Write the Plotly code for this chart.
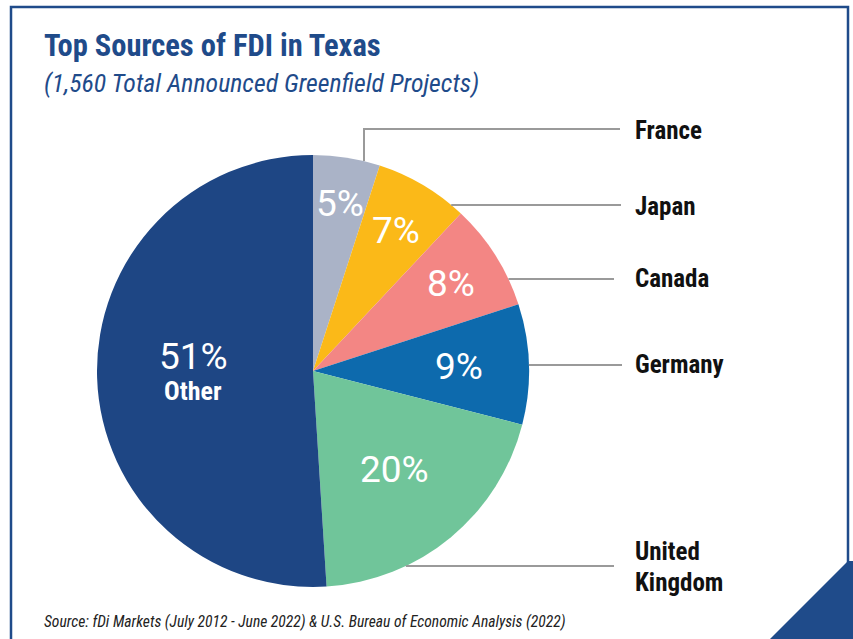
import math
import plotly.graph_objects as go

# ---- data ----
countries = ["France", "Japan", "Canada", "Germany", "United Kingdom", "Other"]
shares = [5, 7, 8, 9, 20, 51]
colors = ["#aab3c7", "#fbb918", "#f38684", "#0d6aad", "#70c59a", "#1e4684"]
side_labels = [["France"], ["Japan"], ["Canada"], ["Germany"], ["United", "Kingdom"]]
inner_sublabels = ["", "", "", "", "", "Other"]

W, H = 853, 639
NAVY = "#1f4b8a"
COND = "Liberation Sans Narrow, Roboto Condensed, Arial Narrow, Roboto, sans-serif"

def px(x):
    return x / W

def py(y):
    return 1 - y / H

# pie geometry (pixels)
cx, cy, R = 313, 371, 216
# radial position of each percentage label (pixels from centre)
label_r = [170, 163, 163, 146, 128, 120]

fig = go.Figure()
fig.add_trace(go.Pie(
    labels=countries,
    values=shares,
    sort=False,
    direction="clockwise",
    rotation=0,
    marker=dict(colors=colors, line=dict(width=0)),
    textinfo="none",
    domain=dict(x=[px(cx - R), px(cx + R)], y=[py(cy + R), py(cy - R)]),
    showlegend=False,
    hoverinfo="label+percent",
))

shapes = []
annotations = []

# percentage labels positioned at each slice's mid-angle
total = sum(shares)
cum = 0
for i, v in enumerate(shares):
    mid = (cum + v / 2) / total * 2 * math.pi
    cum += v
    x = cx + label_r[i] * math.sin(mid)
    y = cy - label_r[i] * math.cos(mid)
    if inner_sublabels[i]:
        annotations.append(dict(xref="paper", yref="paper", x=px(x), y=py(y - 19),
                                xanchor="center", yanchor="middle", text=f"{v}%", showarrow=False,
                                height=30, valign="middle", borderpad=0,
                                font=dict(family="Roboto", size=37, color="white")))
        annotations.append(dict(xref="paper", yref="paper", x=px(x), y=py(y + 16),
                                xanchor="center", yanchor="middle",
                                text=f"<b>{inner_sublabels[i]}</b>", showarrow=False,
                                height=22, valign="middle", borderpad=0,
                                font=dict(family=COND, size=26, color="white")))
    else:
        annotations.append(dict(xref="paper", yref="paper", x=px(x), y=py(y),
                                xanchor="center", yanchor="middle", text=f"{v}%", showarrow=False,
                                font=dict(family="Roboto", size=37, color="white")))

# frame
shapes.append(dict(type="path", xref="paper", yref="paper",
                   path=f"M {px(11)} {py(660)} L {px(11)} {py(7)} L {px(848)} {py(7)} L {px(848)} {py(660)}",
                   line=dict(color=NAVY, width=2.5)))
# corner triangle
shapes.append(dict(type="path", xref="paper", yref="paper",
                   path=f"M {px(848)} {py(561)} L {px(769)} {py(640)} L {px(854)} {py(640)} L {px(854)} {py(561)} Z",
                   fillcolor=NAVY, line=dict(width=0)))

# leader lines + side labels
label_y = [129, 205, 279, 365, 566]
line_end = [620, 621, 614, 622, 614]
text_y = [131, 206, 278, 364, 567]
gray = "#9a9a9a"
for i, lines in enumerate(side_labels):
    y = label_y[i]
    if i == 0:
        xv = 364
        y_edge = cy - math.sqrt(R * R - (xv - cx) ** 2)
        shapes.append(dict(type="path", xref="paper", yref="paper",
                           path=f"M {px(xv)} {py(y_edge)} L {px(xv)} {py(y)} L {px(line_end[i])} {py(y)}",
                           line=dict(color=gray, width=2)))
    else:
        x_edge = cx + math.sqrt(max(R * R - (y - cy) ** 2, 0))
        shapes.append(dict(type="line", xref="paper", yref="paper",
                           x0=px(x_edge), y0=py(y), x1=px(line_end[i]), y1=py(y),
                           line=dict(color=gray, width=2)))
    if len(lines) == 1:
        anchors = ["middle"]
    else:
        anchors = ["bottom", "top"]
    for j, t in enumerate(lines):
        annotations.append(dict(xref="paper", yref="paper", x=px(634), y=py(text_y[i]),
                                xanchor="left", yanchor=anchors[j], align="left", borderpad=0,
                                text=f"<b>{t}</b>", showarrow=False,
                                font=dict(family=COND, size=25, color="#111111")))

# titles
annotations.append(dict(xref="paper", yref="paper", x=px(42), y=py(45), xanchor="left", yanchor="middle",
                        text="<b>Top Sources of FDI in Texas</b>", showarrow=False,
                        font=dict(family=COND, size=30.5, color=NAVY)))
annotations.append(dict(xref="paper", yref="paper", x=px(42), y=py(83), xanchor="left", yanchor="middle",
                        text="<i>(1,560 Total Announced Greenfield Projects)</i>", showarrow=False,
                        font=dict(family=COND, size=25.8, color=NAVY)))
annotations.append(dict(xref="paper", yref="paper", x=px(42), y=py(622), xanchor="left", yanchor="middle",
                        text="<i>Source: fDi Markets (July 2012 - June 2022) & U.S. Bureau of Economic Analysis (2022)</i>",
                        showarrow=False,
                        font=dict(family=COND, size=15.6, color="#222222")))

fig.update_layout(
    width=W, height=H,
    margin=dict(l=0, r=0, t=0, b=0),
    paper_bgcolor="white", plot_bgcolor="white",
    shapes=shapes, annotations=annotations,
)

fig.write_html("out.html", config={"displayModeBar": False},
               post_script="document.body.style.margin='0';document.body.style.overflow='hidden';")
